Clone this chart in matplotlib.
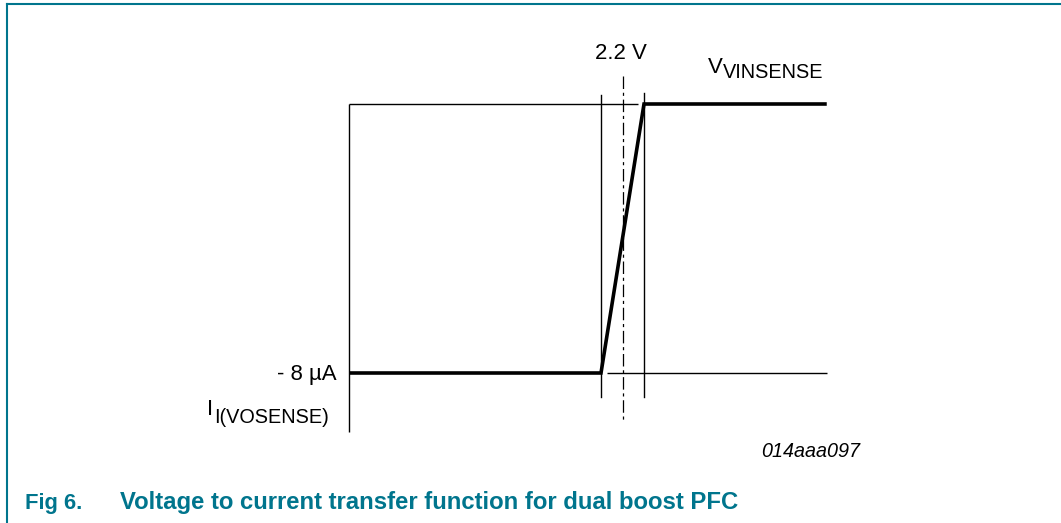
import matplotlib
matplotlib.use("Agg")
import matplotlib.pyplot as plt
from matplotlib.lines import Line2D
import matplotlib.transforms as mtransforms

# ---- data (schematic transfer function) ----
v_axis_start = -0.344     # V, left end of the schematic axis
v_knee_low = 2.0          # V, start of transition
v_knee_high = 2.4         # V, end of transition
v_center = 2.2            # V, labelled threshold
v_end = 4.1               # V, right end of drawn curve
i_high = 0.0              # uA, current above threshold
i_low = -8.0              # uA, current below threshold
i_axis_bottom = -9.75     # uA, bottom of vertical axis

curve_v = [v_axis_start, v_knee_low, v_knee_high, v_end]
curve_i = [i_low, i_low, i_high, i_high]

label_thresh = "2.2 V"
label_current = "- 8 µA"
xlabel_main, xlabel_sub = "V", "VINSENSE"
ylabel_main, ylabel_sub = "I", "I(VOSENSE)"
code_label = "014aaa097"
caption_num = "Fig 6."
caption_text = "Voltage to current transfer function for dual boost PFC"

TEAL = "#00758D"
FONT = ["Liberation Sans", "DejaVu Sans"]
plt.rcParams["font.family"] = FONT

W, H = 1061, 523
fig = plt.figure(figsize=(W / 100, H / 100), dpi=100)
ax = fig.add_axes([0, 0, 1, 1])
ax.set_axis_off()

# scale: 2.0V -> px 601, 107.5 px/V ; 0uA -> px 104, 33.625 px/uA
pxv, pxi = 107.5, 33.625
ax.set_xlim(v_knee_low - 601 / pxv, v_knee_low + (W - 601) / pxv)
ax.set_ylim(i_high - (H - 104) / pxi, i_high + 104 / pxi)

thin = 1.0
thick = 2.6

# axes (thin)
ax.plot([v_axis_start, v_axis_start], [i_high, i_axis_bottom], color="black", lw=thin, solid_capstyle="butt")
ax.plot([v_axis_start, v_knee_high - 0.06], [i_high, i_high], color="black", lw=thin, solid_capstyle="butt")
ax.plot([v_knee_low + 0.055, v_end], [i_low, i_low], color="black", lw=thin, solid_capstyle="butt")

# vertical guide lines
ax.plot([v_knee_low, v_knee_low], [i_high + 0.27, i_low - 0.71], color="black", lw=thin)
ax.plot([v_knee_high, v_knee_high], [i_high + 0.33, i_low - 0.71], color="black", lw=thin)
ax.plot([v_center, v_center], [i_high + 0.83, i_low - 1.46], color="black", lw=0.9,
        linestyle=(0, (10, 3, 2.5, 3)))

# transfer curve (thick)
ax.plot(curve_v, curve_i, color="black", lw=thick, solid_joinstyle="miter", solid_capstyle="butt")

# labels
def off(dx, dy):
    return mtransforms.offset_copy(ax.transData, fig=fig, x=dx, y=dy, units="dots")

fs = 16
fs_sub = 14.3
ax.text(v_center, i_high, label_thresh, transform=off(-2, 45), ha="center", va="baseline", fontsize=fs)
ax.text(v_knee_high, i_high, xlabel_main, transform=off(64, 31), ha="left", va="baseline", fontsize=fs)
ax.text(v_knee_high, i_high, xlabel_sub, transform=off(79, 26), ha="left", va="baseline", fontsize=fs_sub)
ax.text(v_axis_start, i_low, label_current, transform=off(-12, -7), ha="right", va="baseline", fontsize=fs)
ax.text(v_axis_start, i_low, ylabel_main, transform=off(-142, -42), ha="left", va="baseline", fontsize=fs)
ax.text(v_axis_start, i_low, ylabel_sub, transform=off(-135, -50), ha="left", va="baseline", fontsize=fs_sub)
ax.text(v_end, i_low, code_label, transform=off(33, -84), ha="right", va="baseline", fontsize=14.2,
        style="italic")

# frame and caption (figure decoration)
fig.add_artist(Line2D([7 / W, 1.0], [1 - 4 / H, 1 - 4 / H], transform=fig.transFigure, color=TEAL, lw=1.5))
fig.add_artist(Line2D([7 / W, 7 / W], [0, 1 - 4 / H], transform=fig.transFigure, color=TEAL, lw=1.5))
fig.text(25 / W, 1 - 509 / H, caption_num, color=TEAL, fontsize=15.8, fontweight="bold", va="baseline", ha="left")
fig.text(120 / W, 1 - 509 / H, caption_text, color=TEAL, fontsize=17.2, fontweight="bold", va="baseline", ha="left")

fig.savefig("out.png", dpi=100)
